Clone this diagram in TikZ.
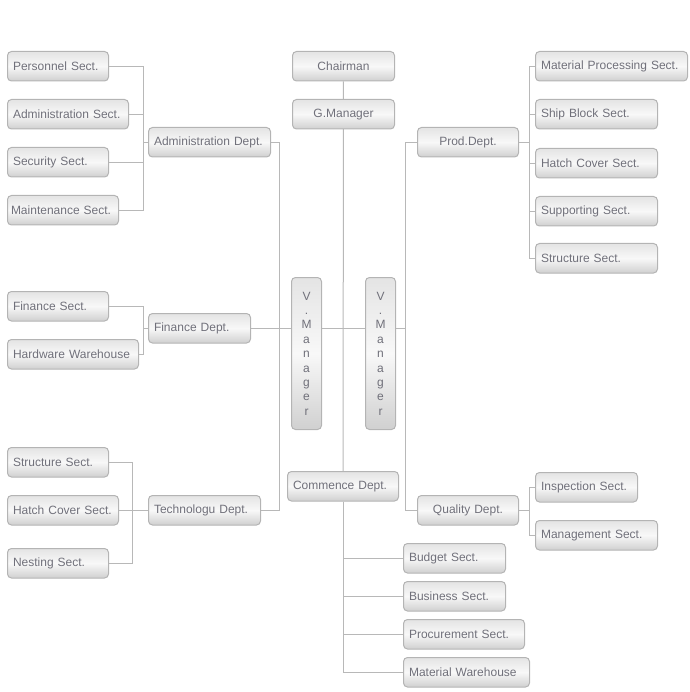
\documentclass[tikz,border=0pt]{standalone}
\usepackage{fontspec}
\setmainfont{Liberation Sans}
\usetikzlibrary{backgrounds}

\definecolor{boxline}{HTML}{B4B4B4}
\definecolor{boxtop}{HTML}{E4E4E4}
\definecolor{boxmid}{HTML}{F8F8F8}
\definecolor{boxbot}{HTML}{D0D0D0}
\definecolor{boxtext}{HTML}{70707A}
\definecolor{linkline}{HTML}{B8B8B8}

\tikzset{
  box/.style={draw=boxline,line width=1pt,rounded corners=4pt,top color=boxtop,bottom color=boxbot,middle color=boxmid,
    text=boxtext,font=\fontsize{12}{14}\selectfont,anchor=north west,minimum height=29.5pt,inner xsep=5.5pt,inner ysep=0pt,align=left},
  mid/.style={box,align=center},
  vbox/.style={box,align=center,text width=19pt,minimum height=152pt,font=\fontsize{12}{14.4}\selectfont},
  link/.style={draw=linkline,line width=1pt}
}

\begin{document}
\begin{tikzpicture}[x=1pt,y=-1pt]
\useasboundingbox (0,0) rectangle (689,692);

% left side
\node [box,text width=90pt] (per) at(7,51){Personnel Sect.};
\node [box,text width=110pt] (ads) at(7,99){Administration Sect.};
\node [box,text width=90pt] (sec) at(7,147){Security Sect.};
\node [box,text width=104pt,inner xsep=3.5pt] (mai) at(7,195){Maintenance Sect.};
\node [box,text width=111pt] (adm) at(148,127){Administration Dept.};

\node [box,text width=90pt] (fns) at(7,291){Finance Sect.};
\node [box,text width=120pt] (hws) at(7,339){Hardware Warehouse};
\node [box,text width=91pt] (fin) at(148,313){Finance Dept.};

\node [box,text width=90pt] (sts) at(7,447){Structure Sect.};
\node [box,text width=100pt] (hcs) at(7,495){Hatch Cover Sect.};
\node [box,text width=90pt] (nes) at(7,548){Nesting Sect.};
\node [box,text width=101pt] (tec) at(148,495){Technologu Dept.};

% centre
\node [mid,text width=91pt] (chr) at(292,51){Chairman};
\node [mid,text width=91pt] (gm) at(292,99){G.Manager};
\node [vbox] (vm1) at(291,277){V\\.\\M\\a\\n\\a\\g\\e\\r};
\node [vbox] (vm2) at(365,277){V\\.\\M\\a\\n\\a\\g\\e\\r};
\node [box,text width=100pt] (com) at(287,471){Commence Dept.};
\node [box,text width=91pt] (bud) at(403,543){Budget Sect.};
\node [box,text width=91pt] (bsn) at(403,581){Business Sect.};
\node [box,text width=110pt] (pro) at(403,619){Procurement Sect.};
\node [box,text width=115pt] (mwh) at(403,657){Material Warehouse};

% right side
\node [mid,text width=90pt] (prd) at(417,127){Prod.Dept.};
\node [box,text width=141pt] (mps) at(535,51){Material Processing Sect.};
\node [box,text width=111pt] (sbs) at(535,99){Ship Block Sect.};
\node [box,text width=111pt] (hcr) at(535,148){Hatch Cover Sect.};
\node [box,text width=111pt] (sup) at(535,196){Supporting Sect.};
\node [box,text width=111pt] (str) at(535,243){Structure Sect.};
\node [mid,text width=90pt] (qua) at(417,495){Quality Dept.};
\node [box,text width=91pt] (ins) at(535,472){Inspection Sect.};
\node [box,text width=111pt] (mgs) at(535,520){Management Sect.};

\begin{scope}[on background layer]
\coordinate (busA) at ([xshift=-5pt]adm.west);
\foreach \n in {per,ads,sec,mai} \draw [link] (\n.east) -| (busA);
\draw [link] (busA) -- (adm.west);
\coordinate (busF) at ([xshift=-5pt]fin.west);
\foreach \n in {fns,hws} \draw [link] (\n.east) -| (busF);
\draw [link] (busF) -- (fin.west);
\coordinate (busT) at ([xshift=-16pt]tec.west);
\foreach \n in {sts,hcs,nes} \draw [link] (\n.east) -| (busT);
\draw [link] (busT) -- (tec.west);
\draw [link] (adm.east) -- ++(8,0) |- (tec.east);
\draw [link] (fin.east) -- ([xshift=10pt]vm2.east |- fin.east);
%\draw [link] (vm1.east) -- (vm2.west);
\draw [link] (prd.west) -- ++(-12,0) |- (qua.west);
\draw [link] (chr) -- (com);
\foreach \n in {bud,bsn,pro,mwh} \draw [link] (com.south) |- (\n.west);
\coordinate (busP) at ([xshift=10pt]prd.east);
\draw [link] (prd.east) -- (busP);
\foreach \n in {mps,sbs,hcr,sup,str} \draw [link] (busP) |- (\n.west);
\coordinate (busQ) at ([xshift=10pt]qua.east);
\draw [link] (qua.east) -- (busQ);
\foreach \n in {ins,mgs} \draw [link] (busQ) |- (\n.west);
\end{scope}
\end{tikzpicture}
\end{document}
